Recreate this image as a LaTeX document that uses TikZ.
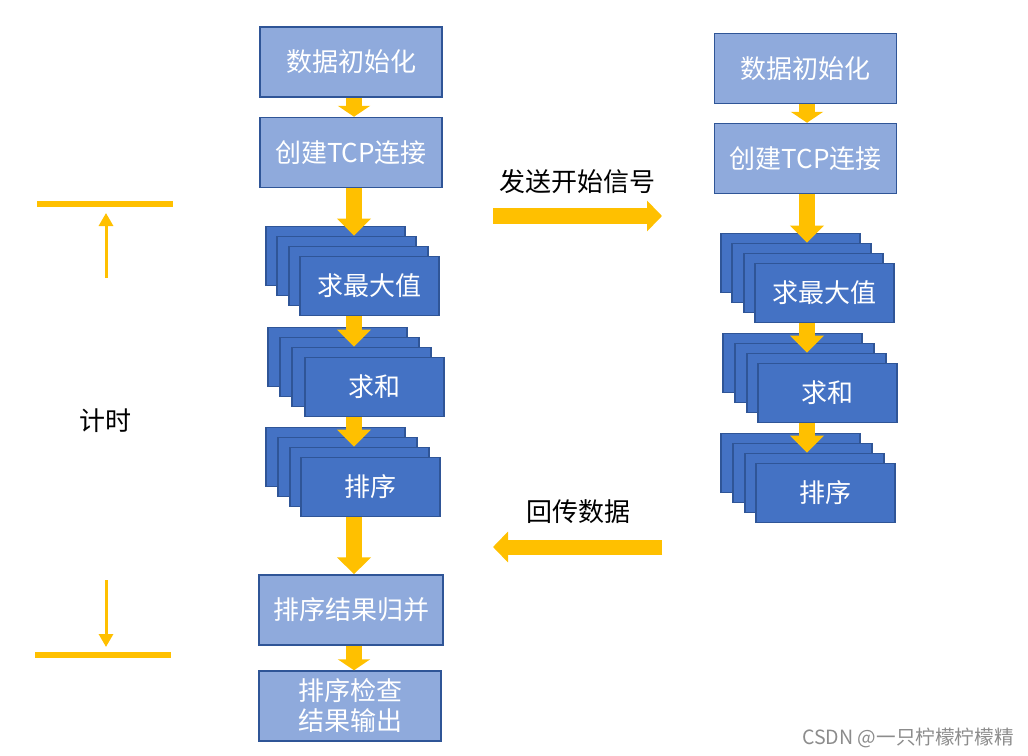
\documentclass[tikz,border=0pt]{standalone}
\usepackage{fontspec}
\setmainfont{Noto Sans CJK SC}
\usetikzlibrary{arrows.meta,calc}
\definecolor{lightblue}{HTML}{8FAADC}
\definecolor{darkblue}{HTML}{4472C4}
\definecolor{bordblue}{HTML}{2F5597}
\definecolor{gold}{HTML}{FFC000}
\tikzset{
  lightbox/.style={draw=bordblue, fill=lightblue, line width=1.1pt, minimum width=136.5pt, minimum height=52.5pt, text=white, font=\fontsize{19.5}{22.5}\selectfont, align=center, inner sep=0pt},
  darkbox/.style={draw=bordblue, fill=darkblue, line width=1.1pt, minimum width=104.25pt, minimum height=44.5pt, text=white, font=\fontsize{19.5}{22.5}\selectfont, inner sep=0pt},
  smallarrow/.style={draw=gold, line width=12pt, -{Triangle[width=24pt,length=8.25pt]}},
  midarrow/.style={draw=gold, line width=12pt, -{Triangle[width=24.75pt,length=12.75pt]}},
  sidearrow/.style={draw=gold, line width=11.25pt, -{Triangle[width=22.5pt,length=11.25pt]}},
  timeline/.style={draw=gold, line width=4.5pt},
  timearrow/.style={draw=gold, line width=2.25pt, -{Triangle[width=10.5pt,length=9.75pt]}},
  label/.style={font=\fontsize{19.5}{22.5}\selectfont, text=black, inner sep=0pt},
}
\begin{document}
\begin{tikzpicture}[x=0.75pt,y=-0.75pt]
\useasboundingbox (0,0) rectangle (1028,756);
% left column
\node[lightbox] (L1) at (351,62) {数据初始化};
\node[lightbox] (L2) at (351,152.5) {创建TCP连接};
\node[darkbox] (s1a) at (335.5,256) {};
\node[darkbox] (s1b) at (346.5,266) {};
\node[darkbox] (s1c) at (358.5,276) {};
\node[darkbox] (s1d) at (369.5,286) {求最大值};
\node[darkbox] (s2a) at (337.5,357) {};
\node[darkbox] (s2b) at (349.5,367) {};
\node[darkbox] (s2c) at (361.5,377) {};
\node[darkbox] (s2d) at (374.5,387) {求和};
\node[darkbox] (s3a) at (335.5,457) {};
\node[darkbox] (s3b) at (347.5,467) {};
\node[darkbox] (s3c) at (359.5,477) {};
\node[darkbox] (s3d) at (370.5,487) {排序};
\node[lightbox, minimum width=138pt] (L3) at (351,610) {排序结果归并};
\node[lightbox] (L4) at (350,706) {排序检查\\结果输出};
% right column
\node[lightbox] (R1) at (805.5,68.5) {数据初始化};
\node[lightbox] (R2) at (805.5,158.5) {创建TCP连接};
\node[darkbox] (r1a) at (790.5,263) {};
\node[darkbox] (r1b) at (801.5,273) {};
\node[darkbox] (r1c) at (813.5,283) {};
\node[darkbox] (r1d) at (824.5,293) {求最大值};
\node[darkbox] (r2a) at (792.5,363) {};
\node[darkbox] (r2b) at (804.5,373) {};
\node[darkbox] (r2c) at (816.5,383) {};
\node[darkbox] (r2d) at (827.5,393) {求和};
\node[darkbox] (r3a) at (790.5,463) {};
\node[darkbox] (r3b) at (802.5,473) {};
\node[darkbox] (r3c) at (814.5,483) {};
\node[darkbox] (r3d) at (825.5,493) {排序};
% left arrows
\coordinate (lx) at (354,0);
\draw[smallarrow] (lx |- L1.south) -- (lx |- L2.north);
\draw[midarrow] (lx |- L2.south) -- (lx |- s1b.north);
\draw[midarrow] (lx |- s1d.south) -- (lx |- s2c.north);
\draw[midarrow] (lx |- s2d.south) -- (lx |- s3c.north);
\draw[midarrow] (lx |- s3d.south) -- (lx |- L3.north);
\draw[smallarrow] (lx |- L3.south) -- (lx |- L4.north);
% right arrows
\coordinate (rx) at (807,0);
\draw[smallarrow] (rx |- R1.south) -- (rx |- R2.north);
\draw[midarrow] (rx |- R2.south) -- (rx |- r1b.north);
\draw[midarrow] (rx |- r1d.south) -- (rx |- r2c.north);
\draw[midarrow] (rx |- r2d.south) -- (rx |- r3c.north);
% middle arrows
\node[label] (send) at (577,182) {发送开始信号};
\coordinate (sendA) at (493,216);
\coordinate (sendB) at (662,216);
\draw[sidearrow] (sendA) -- (sendB);
\node[label] (back) at (578,512) {回传数据};
\coordinate (backA) at (662,547);
\coordinate (backB) at (493,547);
\draw[sidearrow] (backA) -- (backB);
% timing
\coordinate (t1a) at (37,204);
\coordinate (t1b) at (173,204);
\draw[timeline] (t1a) -- (t1b);
\coordinate (ua) at (106,278);
\coordinate (ub) at (106,213);
\draw[timearrow] (ua) -- (ub);
\node[label] (timing) at (105,421) {计时};
\coordinate (da) at (106,580);
\coordinate (db) at (106,647);
\draw[timearrow] (da) -- (db);
\coordinate (t2a) at (35,655);
\coordinate (t2b) at (171,655);
\draw[timeline] (t2a) -- (t2b);
% watermark
\node[font=\fontsize{14.7}{17}\selectfont, text=black!45, inner sep=0pt] (wm) at (908,738) {CSDN @一只柠檬柠檬精};
\end{tikzpicture}
\end{document}
